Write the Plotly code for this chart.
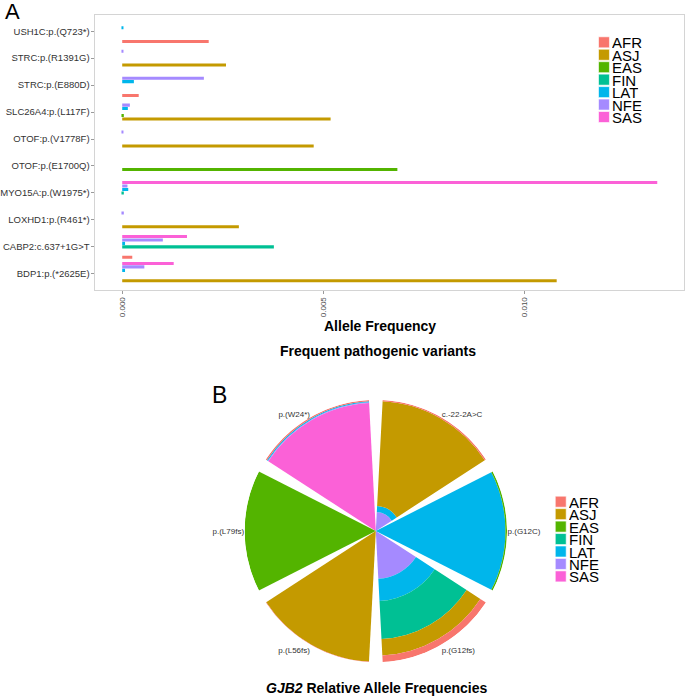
import plotly.graph_objects as go

W, H = 685, 697

# ---------------- data ----------------
populations = ["AFR", "ASJ", "EAS", "FIN", "LAT", "NFE", "SAS"]
pop_colors = ["#F8766D", "#C49A00", "#53B400", "#00C094", "#00B6EB", "#A58AFF", "#FB61D7"]

# Panel A (listed top to bottom as displayed)
variants_a = [
    "USH1C:p.(Q723*)",
    "STRC:p.(R1391G)",
    "STRC:p.(E880D)",
    "SLC26A4:p.(L117F)",
    "OTOF:p.(V1778F)",
    "OTOF:p.(E1700Q)",
    "MYO15A:p.(W1975*)",
    "LOXHD1:p.(R461*)",
    "CABP2:c.637+1G>T",
    "BDP1:p.(*2625E)",
]
afr_a = [0.00215, 0, 0.00041, 0, 0, 0, 0, 0, 0.00025, 0]
asj_a = [0, 0.00258, 0, 0.00518, 0.00476, 0, 0, 0.00290, 0, 0.0108]
eas_a = [0, 0, 0, 0.00004, 0, 0.00684, 0, 0, 0, 0]
fin_a = [0, 0, 0, 0, 0, 0, 0.00004, 0, 0.00377, 0]
lat_a = [0.00003, 0, 0.00029, 0.00014, 0, 0, 0.00015, 0, 0.00007, 0.00007]
nfe_a = [0, 0.00002, 0.00203, 0.00019, 0.00003, 0, 0.00013, 0.00004, 0.00101, 0.00055]
sas_a = [0, 0, 0, 0, 0, 0, 0.0133, 0, 0.00161, 0.00128]
values_a = [afr_a, asj_a, eas_a, fin_a, lat_a, nfe_a, sas_a]

x_tick_vals = [0.0, 0.005, 0.010]
x_tick_text = ["0.000", "0.005", "0.010"]

# Panel B (clockwise from top)
variants_b = ["c.-22-2A>C", "p.(G12C)", "p.(G12fs)", "p.(L56fs)", "p.(L79fs)", "p.(W24*)"]
afr_b = [0.010, 0.000, 0.050, 0.004, 0.000, 0.010]
asj_b = [0.800, 0.000, 0.125, 0.996, 0.000, 0.000]
eas_b = [0.000, 0.012, 0.000, 0.000, 1.000, 0.000]
fin_b = [0.000, 0.000, 0.290, 0.000, 0.000, 0.000]
lat_b = [0.045, 0.988, 0.170, 0.000, 0.000, 0.008]
nfe_b = [0.145, 0.000, 0.365, 0.000, 0.000, 0.005]
sas_b = [0.000, 0.000, 0.000, 0.000, 0.000, 0.977]
values_b = [afr_b, asj_b, eas_b, fin_b, lat_b, nfe_b, sas_b]


def px_x(v):
    return v / W


def px_y(v):
    return 1 - v / H


FONT = "Liberation Sans, Arial, sans-serif"

fig = go.Figure()

# ---------------- Panel A: grouped horizontal bars ----------------
for name, col, vals in zip(populations, pop_colors, values_a):
    fig.add_trace(go.Bar(
        x=vals, y=variants_a, orientation="h", name=name,
        marker=dict(color=col, line=dict(width=0)),
        showlegend=False, xaxis="x", yaxis="y",
    ))

# ---------------- Panel B: stacked polar bars ----------------
# innermost ring is SAS, outermost AFR
for name, col, vals in reversed(list(zip(populations, pop_colors, values_b))):
    fig.add_trace(go.Barpolar(
        r=vals, theta=variants_b, name=name,
        marker=dict(color=col, line=dict(width=0)),
        showlegend=False, subplot="polar",
    ))

fig.update_layout(
    width=W, height=H,
    margin=dict(l=0, r=0, t=0, b=0),
    paper_bgcolor="white", plot_bgcolor="white",
    font=dict(family=FONT, color="#333333"),
    barmode="group", bargap=0.1, bargroupgap=0.12,
    xaxis=dict(
        domain=[px_x(92), px_x(684)],
        range=[-0.000665, 0.013965],
        tickvals=x_tick_vals, ticktext=x_tick_text, tickangle=-90,
        ticks="outside", ticklen=3, tickcolor="#9a9a9a",
        tickfont=dict(size=8, color="#4d4d4d"),
        showgrid=False, zeroline=False,
        showline=True, mirror=True, linecolor="#d4d4d4", linewidth=1,
        anchor="y",
    ),
    yaxis=dict(
        domain=[px_y(290), px_y(15)],
        type="category", categoryorder="array", categoryarray=variants_a[::-1],
        range=[-0.6, len(variants_a) - 0.4],
        ticks="outside", ticklen=3, tickcolor="#9a9a9a",
        tickfont=dict(size=9.5, color="#333333"),
        showgrid=False, zeroline=False,
        showline=True, mirror=True, linecolor="#d4d4d4", linewidth=1,
        anchor="x",
    ),
    polar=dict(
        domain=dict(x=[px_x(374 - 132), px_x(374 + 132)], y=[px_y(531 + 132), px_y(531 - 132)]),
        bgcolor="rgba(0,0,0,0)",
        barmode="stack", bargap=0.1,
        angularaxis=dict(
            type="category", categoryorder="array", categoryarray=variants_b,
            direction="clockwise", rotation=60,
            showline=False, showgrid=False, ticks="",
            tickfont=dict(size=8, color="#333333"),
        ),
        radialaxis=dict(visible=False, range=[0, 1], showgrid=False),
    ),
)

annotations = [
    dict(text="A", x=px_x(9), y=px_y(12), font=dict(size=22, color="black")),
    dict(text="B", x=px_x(217), y=px_y(395), font=dict(size=23, color="black")),
    dict(text="<b>Allele Frequency</b>", x=px_x(378), y=px_y(326), font=dict(size=14, color="black")),
    dict(text="<b>Frequent pathogenic variants</b>", x=px_x(376), y=px_y(351), font=dict(size=14, color="black")),
    dict(text="<b><i>GJB2</i> Relative Allele Frequencies</b>", x=px_x(375), y=px_y(688), font=dict(size=14, color="black")),
]
for a in annotations:
    a.update(xref="paper", yref="paper", showarrow=False, xanchor="center", yanchor="middle")

shapes = []
# manual legends (compact, as in the reference)
legend_specs = [
    (598, 42.3),     # panel A legend: square left edge, first row centre (px)
    (554.5, 501.7),  # panel B legend
]
step = 12.45
sq = 11
for (lx, ly0) in legend_specs:
    for i, (name, col) in enumerate(zip(populations, pop_colors)):
        cy = ly0 + i * step
        shapes.append(dict(
            type="rect", xref="paper", yref="paper",
            x0=px_x(lx), x1=px_x(lx + sq), y0=px_y(cy + sq / 2), y1=px_y(cy - sq / 2),
            fillcolor=col, line=dict(width=0.6, color="white"),
        ))
        annotations.append(dict(
            text=name, xref="paper", yref="paper", showarrow=False,
            x=px_x(lx + sq + 1.5), y=px_y(cy), xanchor="left", yanchor="middle",
            height=12, borderpad=0,
            font=dict(size=15, color="black"),
        ))

fig.update_layout(annotations=annotations, shapes=shapes)

fig.write_html(
    "out.html",
    config={"displayModeBar": False},
    post_script="document.body.style.margin='0';document.body.style.overflow='hidden';",
)
